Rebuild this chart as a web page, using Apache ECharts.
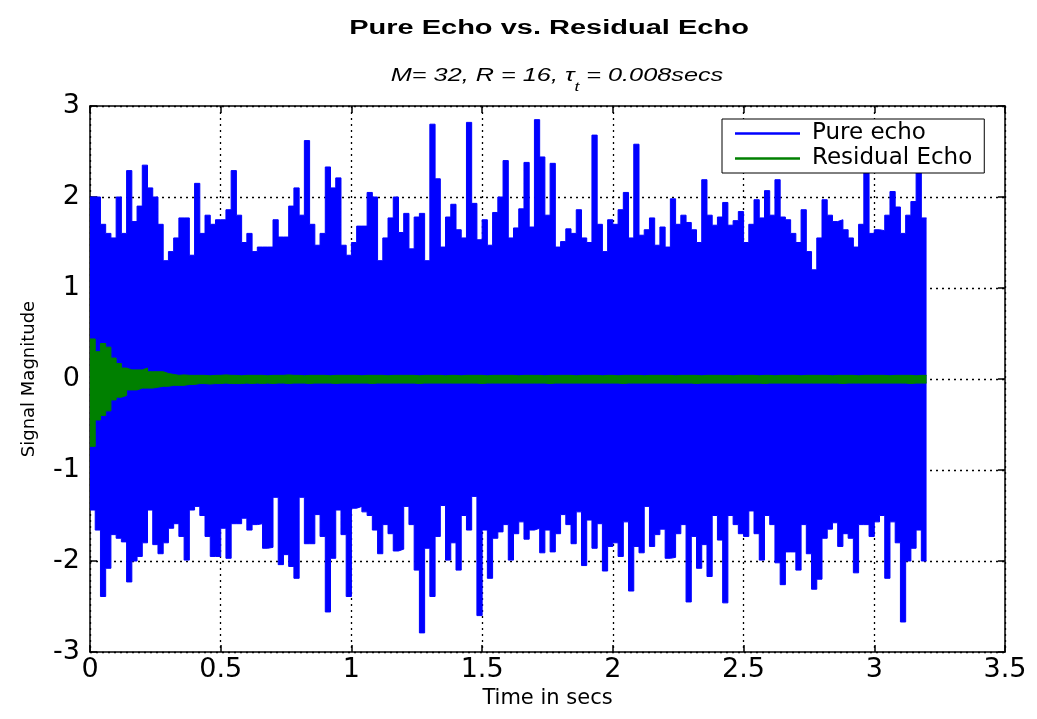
<!DOCTYPE html>
<html><head><meta charset="utf-8">
<script src="https://cdn.jsdelivr.net/npm/echarts@6/dist/echarts.min.js"></script>
<style>html,body{margin:0;padding:0;background:#fff}#c{width:1037px;height:719px}</style>
</head><body><div id="c"></div>
<script>
// envelope bins of 0.02 s (0 .. 3.2 s)
const binWidth = 0.02;
const pureUpper = [
2.0,2.0,1.7,1.6,1.55,2.0,1.6,2.29,1.73,1.9,
2.35,2.1,2.0,1.7,1.3,1.4,1.55,1.77,1.77,1.36,
2.15,1.6,1.8,1.7,1.75,1.75,1.86,2.29,1.8,1.5,
1.6,1.4,1.45,1.45,1.45,1.75,1.56,1.56,1.9,2.1,
1.8,2.62,1.7,1.47,
1.6,2.33,2.1,2.21,1.47,1.36,1.5,1.68,1.68,2.05,
2.0,1.3,1.55,1.77,2.0,1.61,1.82,1.43,1.78,1.82,
1.3,2.8,2.2,1.45,1.78,1.92,1.64,1.55,2.82,1.93,
1.53,1.75,1.47,1.83,2.0,2.4,1.55,1.66,1.87,2.38,
1.67,2.85,2.44,1.8,
2.37,1.45,1.51,1.65,1.6,1.86,1.55,1.5,2.68,1.7,
1.4,1.75,1.7,1.86,2.05,1.55,2.58,1.58,1.64,1.77,
1.47,1.67,1.45,1.98,1.7,1.8,1.72,1.64,1.5,2.19,
1.8,1.69,1.78,1.94,1.69,1.74,1.84,1.5,1.7,1.97,
1.77,2.07,1.8,2.19,
1.78,1.75,1.6,1.5,1.86,1.4,1.2,1.55,1.97,1.8,
1.73,1.75,1.64,1.55,1.45,1.7,2.4,1.6,1.64,1.63,
1.8,2.06,1.89,1.6,1.8,1.95,2.4,1.77
];
const pureLower = [
-1.44,-1.66,-2.39,-2.08,-1.71,-1.75,-1.79,-2.23,-2.0,-1.95,
-1.8,-1.44,-1.82,-1.92,-1.8,-1.64,-1.59,-1.73,-1.99,-1.44,
-1.4,-1.5,-1.73,-1.95,-1.95,-1.64,-1.97,-1.59,-1.59,-1.53,
-1.66,-1.6,-1.59,-1.86,-1.85,-1.3,-2.04,-1.93,-2.06,-2.19,
-1.3,-1.81,-1.81,-1.49,
-1.73,-2.56,-1.97,-1.44,-1.71,-2.39,-1.42,-1.4,-1.46,-1.5,
-1.66,-1.92,-1.6,-1.7,-1.89,-1.87,-1.4,-1.6,-2.1,-2.79,
-1.86,-2.39,-1.73,-1.39,-1.99,-1.8,-2.1,-1.5,-1.66,-1.29,
-2.6,-1.66,-2.19,-1.75,-1.68,-1.6,-1.99,-1.7,-1.57,-1.76,
-1.66,-1.64,-1.91,-1.66,
-1.9,-1.7,-1.49,-1.6,-1.81,-1.46,-2.05,-1.55,-1.86,-1.59,
-2.11,-1.84,-1.8,-1.95,-1.57,-2.33,-1.84,-1.91,-1.4,-1.84,
-1.71,-1.65,-1.97,-1.96,-1.7,-1.6,-2.45,-1.73,-2.08,-1.82,
-2.17,-1.5,-1.77,-2.46,-1.5,-1.6,-1.7,-1.73,-1.45,-1.7,
-1.99,-1.5,-1.6,-2.02,
-2.26,-1.9,-1.9,-2.1,-1.6,-1.92,-2.31,-2.2,-1.75,-1.65,
-1.58,-1.84,-1.7,-1.75,-2.13,-1.6,-1.6,-1.73,-1.57,-1.5,
-2.19,-1.57,-1.8,-2.67,-2.0,-1.86,-1.66,-2.0
];
const residualUpper = [
0.44,0.3,0.39,0.35,0.23,0.17,0.12,0.1,0.1,0.1,
0.12,0.08,0.08,0.08,0.06,0.05,0.04,0.045,0.04,0.04,
0.04,0.04,0.035,0.04,0.04,0.045,0.04,0.04,0.035,0.04,
0.04,0.04,0.04,0.035,0.04,0.04,0.04,0.045,0.04,0.04,
0.035,0.04,0.04,0.04,0.04,0.035,0.04,0.04,0.04,0.04,
0.04,0.035,0.04,0.04,0.04,0.04,0.035,0.04,0.04,0.04,
0.04,0.04,0.035,0.04,0.04,0.04,0.04,0.035,0.04,0.04,
0.035,0.04,0.04,0.04,0.04,0.035,0.04,0.04,0.04,0.04,
0.04,0.035,0.04,0.04,0.04,0.04,0.035,0.04,0.04,0.04,
0.04,0.04,0.035,0.04,0.04,0.04,0.04,0.035,0.04,0.04,
0.035,0.04,0.04,0.04,0.04,0.035,0.04,0.04,0.04,0.04,
0.04,0.035,0.04,0.04,0.04,0.04,0.035,0.04,0.04,0.04,
0.04,0.04,0.035,0.04,0.04,0.04,0.04,0.035,0.04,0.04,
0.035,0.04,0.04,0.04,0.04,0.035,0.04,0.04,0.04,0.04,
0.04,0.035,0.04,0.04,0.04,0.04,0.035,0.04,0.04,0.04,
0.04,0.04,0.035,0.04,0.04,0.04,0.04,0.035,0.04,0.04
];
const residualLower = [
-0.74,-0.45,-0.4,-0.35,-0.23,-0.2,-0.18,-0.12,-0.12,-0.1,
-0.1,-0.1,-0.09,-0.08,-0.08,-0.07,-0.07,-0.07,-0.06,-0.06,
-0.05,-0.05,-0.055,-0.05,-0.05,-0.045,-0.05,-0.05,-0.05,-0.045,
-0.05,-0.045,-0.05,-0.045,-0.05,-0.045,-0.045,-0.05,-0.045,-0.045,
-0.045,-0.05,-0.045,-0.045,-0.045,-0.045,-0.05,-0.045,-0.045,-0.045,
-0.045,-0.045,-0.045,-0.05,-0.045,-0.045,-0.045,-0.045,-0.045,-0.045,
-0.045,-0.045,-0.05,-0.045,-0.045,-0.045,-0.045,-0.045,-0.045,-0.045,
-0.045,-0.045,-0.045,-0.045,-0.05,-0.045,-0.045,-0.045,-0.045,-0.045,
-0.045,-0.045,-0.045,-0.045,-0.045,-0.045,-0.045,-0.05,-0.045,-0.045,
-0.045,-0.045,-0.045,-0.045,-0.045,-0.045,-0.045,-0.045,-0.045,-0.045,
-0.045,-0.05,-0.045,-0.045,-0.045,-0.045,-0.045,-0.045,-0.045,-0.045,
-0.045,-0.045,-0.045,-0.045,-0.045,-0.05,-0.045,-0.045,-0.045,-0.045,
-0.045,-0.045,-0.045,-0.045,-0.045,-0.045,-0.045,-0.045,-0.05,-0.045,
-0.045,-0.045,-0.045,-0.045,-0.045,-0.045,-0.045,-0.045,-0.045,-0.045,
-0.045,-0.045,-0.045,-0.05,-0.045,-0.045,-0.045,-0.045,-0.045,-0.045,
-0.045,-0.045,-0.045,-0.045,-0.045,-0.045,-0.05,-0.045,-0.045,-0.045
];
const titleText = 'Pure Echo vs. Residual Echo';
const seriesNames = ['Pure echo', 'Residual Echo'];
const xAxisName = 'Time in secs';
const yAxisName = 'Signal Magnitude';

function toSteps(vals) {
  const d = vals.map((v, i) => [+(i * binWidth).toFixed(4), v]);
  d.push([+(vals.length * binWidth).toFixed(4), vals[vals.length - 1]]);
  return d;
}
const BLUE = '#0000ff', GREEN = '#008000';
function envSeries(name, vals, color, z) {
  return {
    type: 'line', name: name, data: toSteps(vals), step: 'end',
    symbol: 'none', showSymbol: false, silent: true, z: z,
    lineStyle: { color: color, width: 1 },
    itemStyle: { color: color },
    areaStyle: { color: color, opacity: 1, origin: 0 }
  };
}
const FONT = '"DejaVu Sans", sans-serif';
const AXLINE = { show: true, onZero: false, lineStyle: { color: '#000', width: 1.5 } };
const AXTICK = { show: true, inside: true, length: 7, lineStyle: { color: '#000', width: 1.5 } };
const GRIDLINE = { show: true, lineStyle: { color: '#000', width: 1.3, type: [2, 4] } };
const chart = echarts.init(document.getElementById('c'), null, { renderer: 'canvas' });
chart.setOption({
  animation: false,
  backgroundColor: '#fff',
  grid: { left: 90, right: 32, top: 106, bottom: 67, containLabel: false },
  graphic: [
    { type: 'text', x: 549, y: 28, scaleX: 1.45, z: 10,
      style: { text: titleText, font: 'bold 20px "Liberation Sans", Arial, sans-serif', fill: '#000',
               textAlign: 'center', textVerticalAlign: 'middle', align: 'center', verticalAlign: 'middle' } },
    { type: 'text', x: 557, y: 76, scaleX: 1.33, z: 10,
      style: { text: '{m|M= 32, R = 16, τ}{s|t}{m| = 0.008secs}', fill: '#000',
               textAlign: 'center', textVerticalAlign: 'middle', align: 'center', verticalAlign: 'middle',
               rich: { m: { font: 'italic 19px "Liberation Sans", Arial, sans-serif', fill: '#000' },
                       s: { font: 'italic 13px "Liberation Sans", Arial, sans-serif', fill: '#000', padding: [22, 0, 0, 0] } } } }
  ],
  legend: {
    data: seriesNames.map(n => ({ name: n, icon: 'rect' })),
    orient: 'vertical', left: 722, top: 119,
    itemWidth: 65, itemHeight: 2.5, itemGap: 2,
    backgroundColor: '#fff', borderColor: '#000', borderWidth: 1, borderRadius: 0,
    padding: [3, 12, 3, 13],
    textStyle: { fontFamily: FONT, fontSize: 23, color: '#000', padding: [0, 0, 0, 7] },
    selectedMode: false
  },
  xAxis: [
    { type: 'value', min: 0, max: 3.5, interval: 0.5, position: 'bottom',
      name: xAxisName, nameLocation: 'middle', nameGap: 28,
      nameTextStyle: { fontFamily: FONT, fontSize: 21, color: '#000' },
      axisLine: AXLINE, axisTick: AXTICK,
      axisLabel: { fontFamily: FONT, fontSize: 27, color: '#000', margin: 4, showMinLabel: true, showMaxLabel: true },
      splitLine: GRIDLINE },
    { type: 'value', min: 0, max: 3.5, interval: 0.5, position: 'top',
      axisLine: AXLINE, axisTick: AXTICK,
      axisLabel: { show: false }, splitLine: { show: false } }
  ],
  yAxis: [
    { type: 'value', min: -3, max: 3, interval: 1, position: 'left',
      name: yAxisName, nameLocation: 'middle', nameGap: 52,
      nameTextStyle: { fontFamily: FONT, fontSize: 18, color: '#000' },
      axisLine: AXLINE, axisTick: AXTICK,
      axisLabel: { fontFamily: FONT, fontSize: 27, color: '#000', margin: 10, showMinLabel: true, showMaxLabel: true },
      splitLine: GRIDLINE },
    { type: 'value', min: -3, max: 3, interval: 1, position: 'right',
      axisLine: AXLINE, axisTick: AXTICK,
      axisLabel: { show: false }, splitLine: { show: false } }
  ],
  series: [
    envSeries(seriesNames[0], pureUpper, BLUE, 2),
    envSeries(seriesNames[0], pureLower, BLUE, 2),
    envSeries(seriesNames[1], residualUpper, GREEN, 3),
    envSeries(seriesNames[1], residualLower, GREEN, 3)
  ]
});
</script>
</body></html>
